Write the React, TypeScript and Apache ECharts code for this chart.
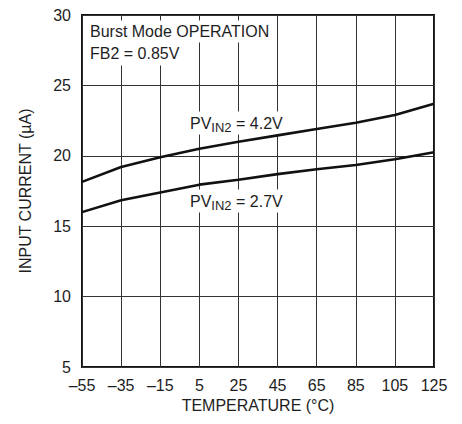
import React, { useEffect, useRef } from "react";
import * as echarts from "echarts";

const temperatures = [-55, -35, -15, 5, 25, 45, 65, 85, 105, 125];
const currentPv42 = [18.15, 19.2, 19.9, 20.5, 21.0, 21.45, 21.9, 22.35, 22.9, 23.7];
const currentPv27 = [16.0, 16.85, 17.4, 17.95, 18.3, 18.7, 19.05, 19.35, 19.75, 20.25];
const yMin = 5;
const yMax = 30;
const yStep = 5;
const xTitle = "TEMPERATURE (°C)";
const yTitle = "INPUT CURRENT (µA)";
const noteLines = ["Burst Mode OPERATION", "FB2 = 0.85V"];
const seriesLabels = ["4.2V", "2.7V"];

const FONT = "'Liberation Sans', Arial, Helvetica, sans-serif";
const INK = "#1e1e1e";

export default function App() {
  const ref = useRef<HTMLDivElement>(null);
  useEffect(() => {
    if (!ref.current) return;
    const chart = echarts.init(ref.current, undefined, { renderer: "svg" });
    const fmt = (v: string | number) => {
      const s = String(v);
      return s.startsWith("-") ? "\u2013" + s.slice(1) : s;
    };
    const pvText = (val: string) => ({
      text: `{a|PV}{s|IN2}{a| = ${val}}`,
      rich: {
        a: { fontSize: 16, fontFamily: FONT, fill: INK, lineHeight: 20 },
        s: { fontSize: 13, fontFamily: FONT, fill: INK, lineHeight: 11, verticalAlign: "bottom" },
      },
      verticalAlign: "middle",
      align: "left",
      backgroundColor: "#fff",
      padding: [2, 3, 1, 3],
    });
    chart.setOption({
      animation: false,
      backgroundColor: "#fff",
      grid: {
        left: 82,
        top: 15,
        right: 28,
        bottom: 57,
        show: true,
        borderColor: "#111",
        borderWidth: 2,
        backgroundColor: "transparent",
      },
      xAxis: {
        type: "category",
        data: temperatures.map(String),
        boundaryGap: false,
        axisLine: { show: false },
        axisTick: { show: false },
        axisLabel: {
          interval: 0,
          formatter: fmt,
          color: INK,
          fontSize: 16,
          fontFamily: FONT,
          margin: 10,
        },
        splitLine: { show: true, interval: 0, lineStyle: { color: "#333", width: 1 } },
        name: xTitle,
        nameLocation: "middle",
        nameGap: 25,
        nameTextStyle: { color: INK, fontSize: 16, fontFamily: FONT },
      },
      yAxis: {
        type: "value",
        min: yMin,
        max: yMax,
        interval: yStep,
        axisLine: { show: false },
        axisTick: { show: false },
        axisLabel: { color: INK, fontSize: 16, fontFamily: FONT, margin: 11 },
        splitLine: { show: true, lineStyle: { color: "#333", width: 1 } },
        name: yTitle,
        nameLocation: "middle",
        nameGap: 49,
        nameTextStyle: { color: INK, fontSize: 16, fontFamily: FONT },
      },
      series: [
        {
          type: "line",
          data: currentPv42,
          symbol: "none",
          lineStyle: { color: "#111", width: 2.6 },
          z: 5,
        },
        {
          type: "line",
          data: currentPv27,
          symbol: "none",
          lineStyle: { color: "#111", width: 2.6 },
          z: 5,
        },
      ],
      graphic: [
        {
          type: "text",
          x: 86,
          y: 31.5,
          z: 1,
          style: {
            text: noteLines[0],
            font: `16px ${FONT}`,
            fill: INK,
            verticalAlign: "middle",
            backgroundColor: "#fff",
            padding: [3, 4, 3, 4],
          },
        },
        {
          type: "text",
          x: 86,
          y: 53.5,
          z: 1,
          style: {
            text: noteLines[1],
            font: `16px ${FONT}`,
            fill: INK,
            verticalAlign: "middle",
            backgroundColor: "#fff",
            padding: [3, 4, 5, 4],
          },
        },
        { type: "text", x: 187, y: 123, z: 1, style: pvText(seriesLabels[0]) },
        { type: "text", x: 187, y: 201, z: 1, style: pvText(seriesLabels[1]) },
      ],
    });
    return () => chart.dispose();
  }, []);
  return (
    <div
      ref={ref}
      style={{ position: "fixed", left: 0, top: 0, width: 462, height: 424, background: "#fff" }}
    />
  );
}
